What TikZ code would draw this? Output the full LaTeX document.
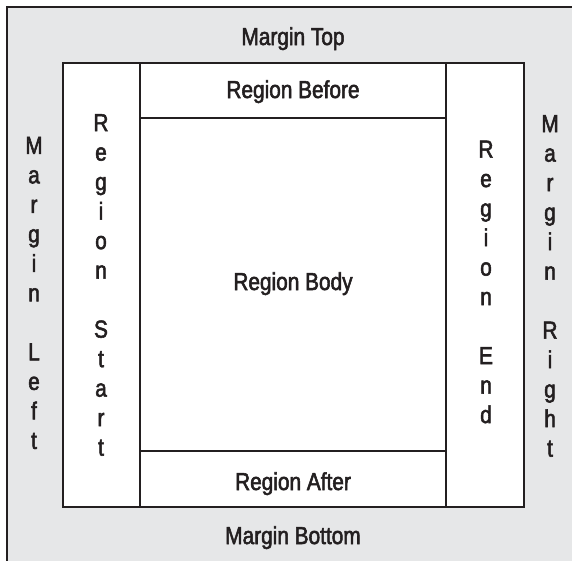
\documentclass[tikz,border=0pt]{standalone}
\usepackage{fontspec}
\setmainfont[FakeStretch=0.85,FakeBold=2.2]{Liberation Sans}
\definecolor{ink}{HTML}{231F20}
\definecolor{margingray}{HTML}{E6E7E8}
\begin{document}
\begin{tikzpicture}[x=1pt,y=-1pt,
  frame/.style={draw=ink,line width=2pt},
  label/.style={text=ink,font=\fontsize{24.5}{29.5}\selectfont,inner sep=0pt},
  stack/.style={label,align=center,anchor=center}]
\useasboundingbox (0,0) rectangle (572,560);
\begin{scope}
\clip (0,0) rectangle (572,560);
% page with the margins
\fill[margingray] (7,7) rectangle (590,590);
\draw[draw=ink,line width=2.5pt] (7,590) -- (7,7) -- (590,7);
% region area
\fill[white] (63,63) rectangle (524,507);
\draw[frame] (63,63) rectangle (524,507);
\draw[frame] (140,63) -- (140,507);
\draw[frame] (446,63) -- (446,507);
\draw[frame] (140,118) -- (446,118);
\draw[frame] (140,451) -- (446,451);
\end{scope}
% horizontal labels
\node[label,anchor=base] (mtop) at (293,45) {Margin Top};
\node[label,anchor=base] (rbefore) at (293,98) {Region Before};
\node[label,anchor=base] (rbody) at (293,290) {Region Body};
\node[label,anchor=base] (rafter) at (293,490) {Region After};
\node[label,anchor=base] (mbottom) at (293,544) {Margin Bottom};
% vertical labels
\node[stack] (mleft) at (34,293) {M\\a\\r\\g\\i\\n\\\mbox{}\\L\\e\\f\\t};
\node[stack] (rstart) at (101,285) {R\\e\\g\\i\\o\\n\\\mbox{}\\S\\t\\a\\r\\t};
\node[stack] (rend) at (486,282) {R\\e\\g\\i\\o\\n\\\mbox{}\\E\\n\\d};
\node[stack] (mright) at (550,286) {M\\a\\r\\g\\i\\n\\\mbox{}\\R\\i\\g\\h\\t};
\end{tikzpicture}
\end{document}
